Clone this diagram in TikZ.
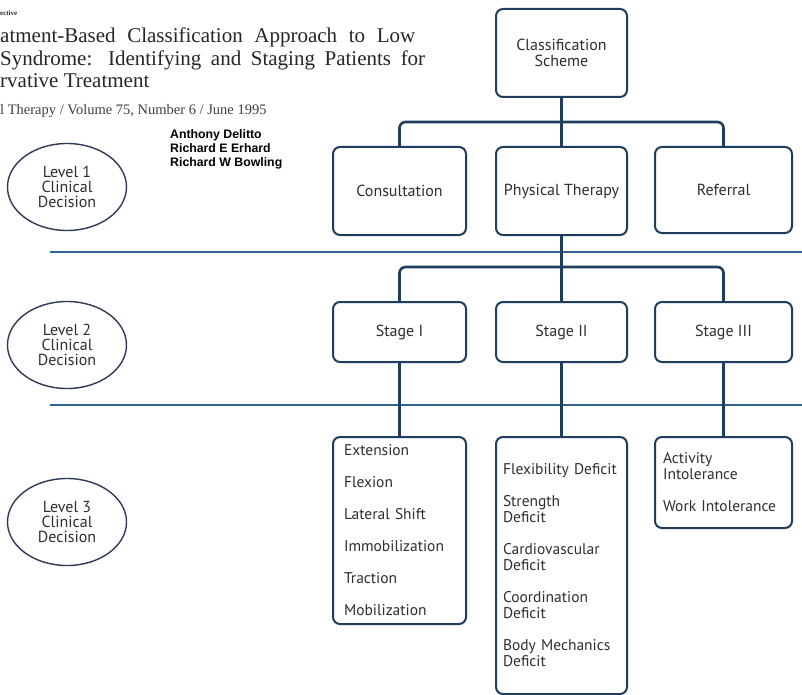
\documentclass[tikz,border=0pt]{standalone}
\usepackage{fontspec}
\setmainfont{Liberation Serif}
\newfontfamily\boxfont{PT Sans}
\newfontfamily\authfont{Liberation Sans}
\usepackage{tikz}
\usetikzlibrary{positioning, shapes.geometric}
\definecolor{navy}{HTML}{1F3D5E}
\definecolor{rulecol}{HTML}{2F6394}
\definecolor{ovalcol}{HTML}{2C3A58}
\definecolor{ink}{HTML}{2E2E2E}
\tikzset{B/.style={draw=navy, line width=2pt, rounded corners=7pt, fill=white,
    text=ink, font=\boxfont\fontsize{16}{16}\selectfont, align=center,
    minimum width=133pt, inner sep=3pt}}
\tikzset{L/.style={B, align=left, inner xsep=8pt, text width=117pt,
    font=\boxfont\fontsize{15.5}{16}\selectfont}}
\tikzset{O/.style={ellipse, draw=ovalcol, line width=1.4pt, text=ink,
    font=\boxfont\fontsize{16}{15}\selectfont, align=center,
    minimum width=119pt, minimum height=87pt, inner sep=0pt}}
\tikzset{E/.style={draw=navy, line width=2.6pt}}
\tikzset{R/.style={draw=rulecol, line width=2.4pt}}
\tikzset{T/.style={anchor=base west, inner sep=0pt, text=black!85}}
\newcommand{\spread}[2]{\makebox[#1][s]{#2}}

\begin{document}
\begin{tikzpicture}[x=1pt, y=-1pt]
  \useasboundingbox[fill=white] (0,0) rectangle (802,695);

  %% Article header
  \node[T, font=\fontsize{7}{8}\selectfont\bfseries] (kick) at (0,16) {ective};
  \node[T, font=\fontsize{21}{23}\selectfont] (t1) at (0,43)
       {\spread{415pt}{atment-Based Classification Approach to Low}};
  \node[T, font=\fontsize{21}{23}\selectfont] (t2) at (0,66)
       {\spread{425pt}{Syndrome: Identifying and Staging Patients for}};
  \node[T, font=\fontsize{21}{23}\selectfont] (t3) at (0,88) {rvative Treatment};
  \node[T, font=\fontsize{14.5}{16}\selectfont, text=black!75] (jrn) at (0,115)
       {l Therapy / Volume 75, Number 6 / June 1995};
  \node[T, font=\authfont\bfseries\fontsize{12.3}{14}\selectfont, align=left,
        text=black, anchor=north west] (auth) at (170,129)
       {Anthony Delitto\\Richard E Erhard\\Richard W Bowling};

  %% Level ovals
  \node[O] (lv1) at (67,187) {Level 1\\Clinical\\Decision};
  \node[O] (lv2) at (67,345) {Level 2\\Clinical\\Decision};
  \node[O] (lv3) at (67,522) {Level 3\\Clinical\\Decision};

  %% Level rules
  \coordinate (r1a) at (50,252);
  \coordinate (r1b) at (802,252);
  \coordinate (r2a) at (50,405);
  \coordinate (r2b) at (802,405);
  \draw[R] (r1a) -- (r1b);
  \draw[R] (r2a) -- (r2b);

  %% Level 1
  \node[B, minimum width=131pt, minimum height=88pt] (scheme) at (561.5,53)
       {Classification\\Scheme};
  \node[B, minimum height=88pt] (cons) at (399.5,191) {Consultation};
  \node[B, minimum width=131pt, minimum height=88pt] (pt) at (561.5,191)
       {Physical Therapy};
  \node[B, minimum width=137pt, minimum height=86pt] (ref) at (723.5,190)
       {Referral};

  %% Level 2
  \node[B, minimum height=60pt] (st1) at (399.5,332) {Stage I};
  \node[B, minimum width=131pt, minimum height=60pt] (st2) at (561.5,332)
       {Stage II};
  \node[B, minimum width=137pt, minimum height=60pt] (st3) at (723.5,332)
       {Stage III};

  %% Level 3
  \node[L, inner xsep=11pt, text width=111pt, minimum height=187pt, anchor=north]
       (ls1) at (399.5,436)
       {Extension\\[16pt] Flexion\\[16pt] Lateral Shift\\[16pt]
        Immobilization\\[16pt] Traction\\[16pt] Mobilization};
  \node[L, minimum width=131pt, inner xsep=7pt, text width=117pt,
        minimum height=257pt, anchor=north] (ls2) at (561.5,436)
       {\mbox{Flexibility Deficit}\\[16pt] Strength\\ Deficit\\[16pt]
        Cardiovascular\\ Deficit\\[16pt] Coordination\\ Deficit\\[16pt]
        \mbox{Body Mechanics}\\ Deficit};
  \node[L, minimum width=137pt, text width=121pt, minimum height=91pt,
        anchor=north] (ls3) at (723.5,436)
       {Activity\\ Intolerance\\[16pt] \mbox{Work Intolerance}};

  %% Connectors
  \coordinate (k1) at (561.5,122);
  \coordinate (k2) at (561.5,267);
  \draw[E] (scheme.south) -- (pt.north);
  \draw[E, rounded corners=6pt] (cons.north) |- (k1) -| (ref.north);
  \draw[E] (pt.south) -- (st2.north);
  \draw[E, rounded corners=6pt] (st1.north) |- (k2) -| (st3.north);
  \draw[E] (st1.south) -- (ls1.north);
  \draw[E] (st2.south) -- (ls2.north);
  \draw[E] (st3.south) -- (ls3.north);
\end{tikzpicture}
\end{document}
